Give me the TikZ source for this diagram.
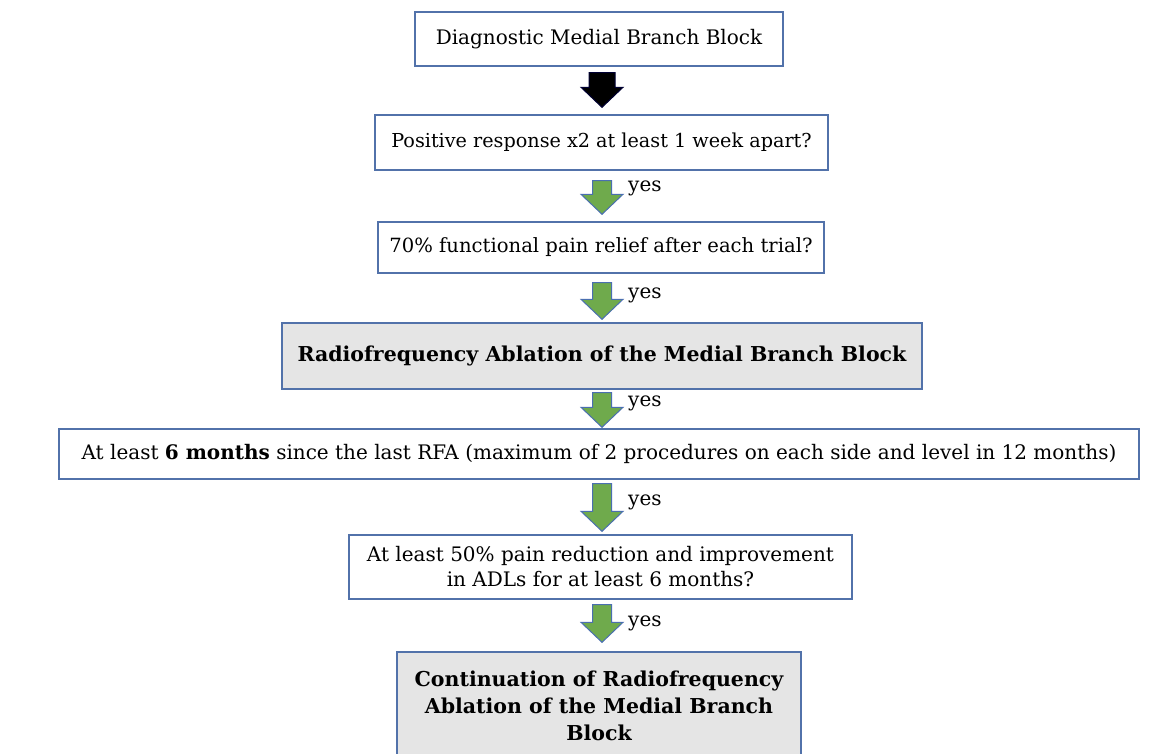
\documentclass[tikz,border=0pt]{standalone}
\usepackage{fontspec}
\setmainfont{DejaVu Serif}
\usetikzlibrary{calc}
\definecolor{boxblue}{HTML}{5272AA}
\definecolor{boxgray}{HTML}{E5E5E5}
\definecolor{arrgreen}{HTML}{6FAA4C}
\definecolor{arrline}{HTML}{4A6FB0}
\tikzset{
  stepbox/.style={draw=boxblue, line width=1.4pt, fill=white, align=center, inner sep=0pt, font=\fontsize{20}{25}\selectfont},
  graybox/.style={stepbox, fill=boxgray, font=\fontsize{20.5}{27}\selectfont\bfseries},
  greenarr/.style={fill=arrgreen, draw=arrline, line width=1pt, line join=miter},
  blackarr/.style={fill=black, draw=black!80!blue, line width=1pt, line join=miter},
  yeslabel/.style={anchor=west, inner sep=0pt, font=\fontsize{20}{22}\selectfont}
}
% #1 style, #2 from node, #3 to node, #4 top gap, #5 bottom gap, #6 shaft half width
\newcommand{\fatarr}[6]{%
  \draw[#1] let \p1=(#2.south), \p2=(#3.north) in
    (602-#6,\y1-#4) -- (602+#6,\y1-#4) -- (602+#6,\y2+#5+20) -- (623,\y2+#5+20)
    -- (602,\y2+#5) -- (581,\y2+#5+20) -- (602-#6,\y2+#5+20) -- cycle;}
\begin{document}
\begin{tikzpicture}[x=1pt,y=1pt]
\clip (0,0) rectangle (1156,-754);
\fill[white] (0,0) rectangle (1156,-754);

\node[stepbox, minimum width=368, minimum height=54] (b1) at (599,-39) {Diagnostic Medial Branch Block};
\node[stepbox, minimum width=453, minimum height=55, font=\fontsize{19.2}{25}\selectfont] (b2) at (601.5,-142.5) {Positive response x2 at least 1 week apart?};
\node[stepbox, minimum width=446, minimum height=51, font=\fontsize{19.6}{25}\selectfont] (b3) at (601,-247.5) {70\% functional pain relief after each trial?};
\node[graybox, minimum width=640, minimum height=66] (b4) at (602,-356) {Radiofrequency Ablation of the Medial Branch Block};
\node[stepbox, minimum width=1080, minimum height=50] (b5) at (599,-454) {At least \textbf{6 months} since the last RFA (maximum of 2 procedures on each side and level in 12 months)};
\node[stepbox, minimum width=503, minimum height=64] (b6) at (600.5,-567) {At least 50\% pain reduction and improvement\\in ADLs for at least 6 months?};
\node[graybox, minimum width=404, minimum height=108] (b7) at (599,-706) {Continuation of Radiofrequency\\Ablation of the Medial Branch\\Block};

\fatarr{blackarr}{b1}{b2}{6}{7}{13}
\fatarr{greenarr}{b2}{b3}{10}{7}{9.5}
\fatarr{greenarr}{b3}{b4}{9}{3}{9.5}
\fatarr{greenarr}{b4}{b5}{3}{1}{9.5}
\fatarr{greenarr}{b5}{b6}{4}{3}{9.5}
\fatarr{greenarr}{b6}{b7}{5}{9}{9.5}

\node[yeslabel] (y1) at (628,-188) {yes};
\node[yeslabel] (y2) at (628,-295) {yes};
\node[yeslabel] (y3) at (628,-403) {yes};
\node[yeslabel] (y4) at (628,-502) {yes};
\node[yeslabel] (y5) at (628,-623) {yes};
\end{tikzpicture}
\end{document}
